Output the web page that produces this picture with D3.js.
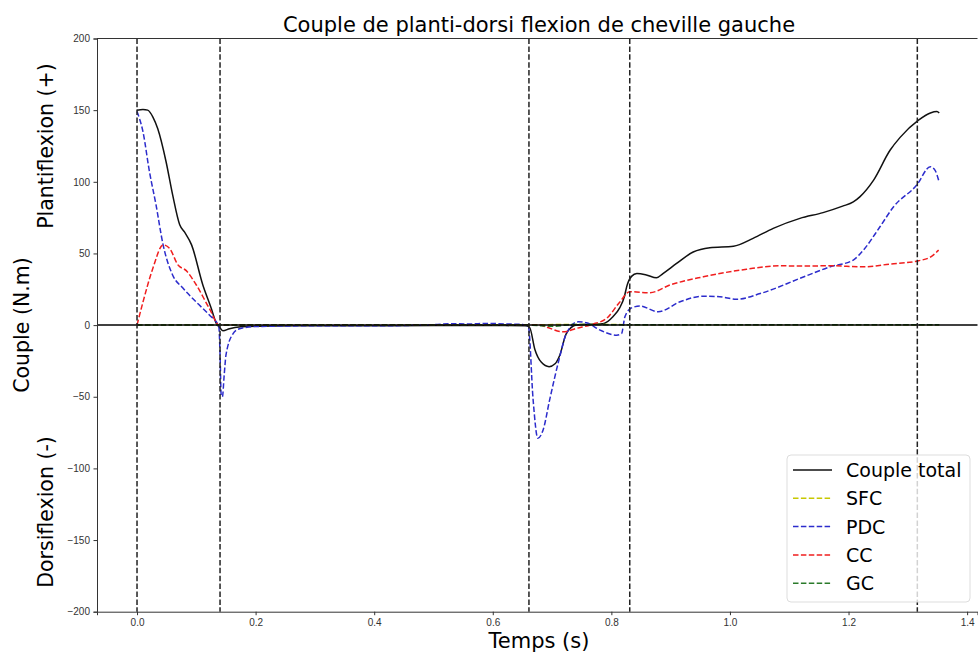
<!DOCTYPE html>
<html>
<head>
<meta charset="utf-8">
<script src="https://cdn.jsdelivr.net/npm/d3@7"></script>
<style>
body { margin: 0; background: #fff; }
svg { font-family: "DejaVu Sans", sans-serif; }
.tick text { font-size: 10px; fill: #333; }
.tick line { stroke: #333; }
.domain { stroke: #333; }
</style>
</head>
<body>
<svg id="chart" width="978" height="653"></svg>
<script>
// [temps (s), couple (N.m)]
var total = [[0,150],[0.01,150.5],[0.018,150],[0.027,145],[0.035,137],[0.049,114],[0.06,91],[0.072,70],[0.08,65],[0.092,56],[0.111,28],[0.125,12],[0.134,1],[0.14,-2],[0.145,-4],[0.156,-2.5],[0.175,-1.2],[0.2,-0.8],[0.3,-0.5],[0.4,-0.5],[0.5,-0.3],[0.6,-0.3],[0.655,-0.5],[0.662,-1.5],[0.671,-17],[0.682,-26],[0.695,-29],[0.705,-27],[0.713,-21],[0.724,-6],[0.741,0],[0.76,0.5],[0.786,1],[0.803,6],[0.814,12],[0.822,20],[0.826,27],[0.834,34],[0.843,36],[0.859,35],[0.876,33],[0.887,36],[0.91,43],[0.938,51],[0.966,54],[1.006,55],[1.039,60.5],[1.073,67.5],[1.118,74.5],[1.157,78.5],[1.19,83],[1.208,86],[1.219,89.5],[1.242,101],[1.27,122],[1.287,131],[1.318,143],[1.338,148],[1.349,149],[1.353,148]];
var sfc = [[0,0],[0.14,0.3],[0.3,0],[0.66,0.2],[0.75,0.5],[0.83,0.3],[1.1,0.2],[1.353,0.3]];
var pdc = [[0,149],[0.01,135],[0.021,107],[0.032,84],[0.044,56],[0.06,35],[0.077,26],[0.1,16],[0.122,7],[0.138,-1],[0.14,-20],[0.142,-49],[0.144,-50],[0.147,-35],[0.15,-21],[0.162,-6],[0.173,-2.5],[0.2,-1],[0.3,-0.5],[0.4,-0.5],[0.5,0.3],[0.53,1],[0.56,0.8],[0.59,1.2],[0.62,0.8],[0.65,0.5],[0.66,-1],[0.668,-52],[0.676,-79],[0.685,-73],[0.696,-52],[0.713,-22],[0.724,-6],[0.744,2.3],[0.758,1.6],[0.781,-3.5],[0.809,-7],[0.817,-6],[0.823,6],[0.834,12],[0.848,13.3],[0.879,9.3],[0.916,16.3],[0.955,20.2],[0.983,19.8],[1.011,18],[1.051,22],[1.118,32.6],[1.169,40.7],[1.208,45.4],[1.225,52.3],[1.253,68.6],[1.276,82.6],[1.315,97.7],[1.338,110.5],[1.346,108],[1.352,101]];
var cc = [[0,0],[0.01,16],[0.027,40],[0.044,56],[0.055,53.5],[0.069,42],[0.083,38],[0.1,28],[0.122,11.6],[0.139,0],[0.2,0],[0.4,0],[0.6,0],[0.68,0],[0.688,-1],[0.719,-4.7],[0.741,-2.3],[0.769,0.7],[0.792,4.7],[0.814,16],[0.831,23.3],[0.865,22.6],[0.899,28],[0.955,33.7],[1.028,39],[1.084,41.4],[1.118,41.2],[1.169,41.4],[1.225,40.7],[1.27,42.6],[1.318,44.9],[1.34,48],[1.352,52.3]];
var gc = [[0,0],[0.14,0],[0.4,0],[0.66,0],[0.7,-0.8],[0.74,0.5],[0.83,0.2],[1.353,0.2]];

var events = [0, 0.14, 0.661, 0.831, 1.316];
var xTicks = [0, 0.2, 0.4, 0.6, 0.8, 1.0, 1.2, 1.4];
var yTicks = [-200, -150, -100, -50, 0, 50, 100, 150, 200];

var series = [
    {name: "Couple total", data: total, color: "#111", dash: null},
    {name: "SFC", data: sfc, color: "#c8c800", dash: "5.5,2.4"},
    {name: "PDC", data: pdc, color: "#2c2ccc", dash: "5.5,2.4"},
    {name: "CC", data: cc, color: "#f01e1e", dash: "5.5,2.4"},
    {name: "GC", data: gc, color: "#2a7a2a", dash: "5.5,2.4"}
];

var plotL = 97, plotT = 38.5, plotB = 611.7, plotR = 977.5;

var xScale = d3.scaleLinear()
    .domain([-0.0675, 1.4175])
    .range([plotL, plotR]);

var yScale = d3.scaleLinear()
    .domain([-200, 200])
    .range([plotB, plotT]);

var svg = d3.select("#chart");

var drawCurves = function(){
    var line = d3.line()
        .x(function(d) {return xScale(d[0]);})
        .y(function(d) {return yScale(d[1]);})
        .curve(d3.curveMonotoneX);
    var g = svg.append("g").attr("class", "curves");
    series.forEach(function(s){
        g.append("path")
        .datum(s.data)
        .attr("d", line)
        .attr("fill", "none")
        .attr("stroke", s.color)
        .attr("stroke-width", 1.5)
        .attr("stroke-dasharray", s.dash);
    });
    // zero line
    g.append("line")
    .attr("x1", plotL).attr("x2", plotR)
    .attr("y1", yScale(0)).attr("y2", yScale(0))
    .attr("stroke", "#000")
    .attr("stroke-width", 1.5);
    // event markers
    g.selectAll(".event")
    .data(events)
    .enter()
    .append("line")
    .attr("class", "event")
    .attr("x1", function(d) {return xScale(d);})
    .attr("x2", function(d) {return xScale(d);})
    .attr("y1", plotT).attr("y2", plotB)
    .attr("stroke", "#222")
    .attr("stroke-width", 1.5)
    .attr("stroke-dasharray", "5.5,2.4");
};

var drawAxes = function(){
    var xAxis = d3.axisBottom(xScale)
        .tickValues(xTicks)
        .tickFormat(d3.format(".1f"))
        .tickSizeOuter(0)
        .tickSize(3.5)
        .tickPadding(3.5);
    var yAxis = d3.axisLeft(yScale)
        .tickValues(yTicks)
        .tickFormat(function(d) {return d < 0 ? "\u2212" + Math.abs(d) : d;})
        .tickSizeOuter(0)
        .tickSize(3.5)
        .tickPadding(3.5);
    svg.append("g")
    .attr("transform", "translate(0," + plotB + ")")
    .call(xAxis);
    svg.append("g")
    .attr("transform", "translate(" + plotL + ",0)")
    .call(yAxis);
    svg.append("line")
    .attr("x1", plotL).attr("x2", plotR)
    .attr("y1", plotT).attr("y2", plotT)
    .attr("stroke", "#333");
};

var createLabels = function(){
    var labels = svg.append("g").attr("class", "labels");
    labels.append("text")
    .text("Couple de planti-dorsi flexion de cheville gauche")
    .attr("text-anchor", "middle")
    .attr("x", 539)
    .attr("y", 32)
    .attr("font-size", 21);
    labels.append("text")
    .text("Temps (s)")
    .attr("text-anchor", "middle")
    .attr("x", 539)
    .attr("y", 648)
    .attr("font-size", 21);
    var yLabels = [
        {t: "Couple (N.m)", x: 29, y: 325},
        {t: "Plantiflexion (+)", x: 53, y: 146},
        {t: "Dorsiflexion (-)", x: 53, y: 512}
    ];
    yLabels.forEach(function(l){
        labels.append("text")
        .text(l.t)
        .attr("text-anchor", "middle")
        .attr("font-size", 20.5)
        .attr("transform", "translate(" + l.x + "," + l.y + ") rotate(-90)");
    });
};

var drawLegend = function(){
    var lg = svg.append("g").attr("class", "legend");
    lg.append("rect")
    .attr("x", 787).attr("y", 455)
    .attr("width", 183).attr("height", 147)
    .attr("rx", 4)
    .attr("fill", "#fff")
    .attr("fill-opacity", 0.8)
    .attr("stroke", "#ddd");
    var rows = lg.selectAll(".row")
    .data(series)
    .enter()
    .append("g")
    .attr("transform", function(d, i) {return "translate(0," + (470 + i * 28.3) + ")";});
    rows.append("line")
    .attr("x1", 793).attr("x2", 832)
    .attr("stroke", function(d) {return d.color;})
    .attr("stroke-width", 1.5)
    .attr("stroke-dasharray", function(d) {return d.dash;});
    rows.append("text")
    .text(function(d) {return d.name;})
    .attr("x", 846)
    .attr("y", 7)
    .attr("font-size", 19);
};

drawCurves();
drawAxes();
createLabels();
drawLegend();
</script>
</body>
</html>
